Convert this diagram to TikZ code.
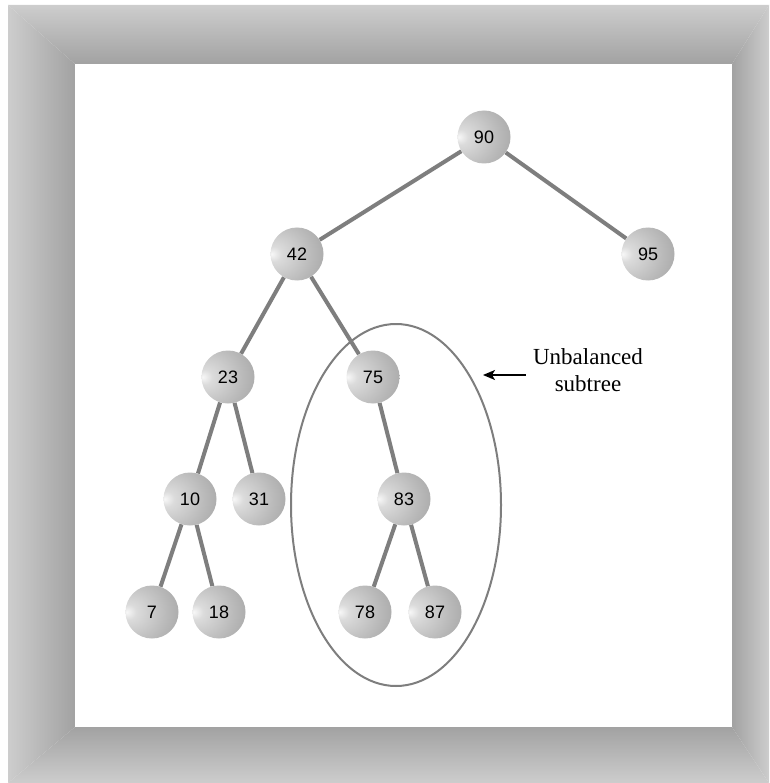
\documentclass[tikz,border=0pt]{standalone}
\usepackage{fontspec}
\setmainfont{Liberation Serif}
\newfontfamily\numfont{Liberation Sans}
\usetikzlibrary{arrows.meta,shapes.geometric}
\pgfdeclarelayer{background}
\pgfsetlayers{background,main}
\pgfdeclareradialshading{sphereball}{\pgfpoint{-24bp}{0bp}}{%
  color(0bp)=(white!97!black);
  color(7bp)=(white!86!black);
  color(30bp)=(white!72!black);
  color(55bp)=(white!58!black);
  color(75bp)=(white!52!black)}
\definecolor{frameout}{HTML}{CDCDCD}
\definecolor{framein}{HTML}{A2A2A2}
\definecolor{edgegray}{HTML}{7E7E7E}
\tikzset{
  ball/.style={circle, minimum size=53pt, inner sep=0pt, shading=sphereball,
    font=\numfont\fontsize{18}{18}\selectfont, text=black},
  link/.style={draw=edgegray, line width=4pt},
}
\begin{document}
\begin{tikzpicture}[x=1pt,y=-1pt]
\useasboundingbox (0,0) rectangle (769,783);
% nodes
\node[ball] (n90) at (484,137) {90};
\node[ball] (n42) at (297,254) {42};
\node[ball] (n95) at (648,254) {95};
\node[ball] (n23) at (228,377) {23};
\node[ball] (n75) at (373,377) {75};
\node[ball] (n10) at (190,499) {10};
\node[ball] (n31) at (259,499) {31};
\node[ball] (n83) at (404,499) {83};
\node[ball] (n7) at (152,612) {7};
\node[ball] (n18) at (219,612) {18};
\node[ball] (n78) at (365,612) {78};
\node[ball] (n87) at (435,612) {87};
\begin{pgfonlayer}{background}
% frame
\shade[top color=frameout, bottom color=framein] (8,5) -- (769,5) -- (732,64) -- (75,64) -- cycle;
\shade[left color=frameout, right color=framein] (8,5) -- (75,64) -- (75,727) -- (8,783) -- cycle;
\shade[bottom color=frameout, top color=framein] (8,783) -- (75,727) -- (732,727) -- (769,783) -- cycle;
\shade[right color=frameout, left color=framein] (769,5) -- (769,783) -- (732,727) -- (732,64) -- cycle;
\fill[white] (75,64) rectangle (732,727);
% connectors
\draw[link] (n90) -- (n42);
\draw[link] (n90) -- (n95);
\draw[link] (n42) -- (n23);
\draw[link] (n42) -- (n75);
\draw[link] (n23) -- (n10);
\draw[link] (n23) -- (n31);
\draw[link] (n75) -- (n83);
\draw[link] (n10) -- (n7);
\draw[link] (n10) -- (n18);
\draw[link] (n83) -- (n78);
\draw[link] (n83) -- (n87);
\end{pgfonlayer}
% unbalanced subtree ring
\node[ellipse, draw=edgegray, line width=2pt, minimum width=210pt, minimum height=362pt, inner sep=0pt] (ring) at (396,505) {};
\node[align=center, font=\fontsize{23}{27}\selectfont, inner sep=0pt] (lbl) at (588,370.5) {Unbalanced\\subtree};
\coordinate (tip) at (483,375);
\draw[line width=1.5pt, -{Stealth[length=12pt,width=10pt,inset=3pt]}] ([xshift=-7pt,yshift=-4.5pt]lbl.west) -- (tip);
\end{tikzpicture}
\end{document}
